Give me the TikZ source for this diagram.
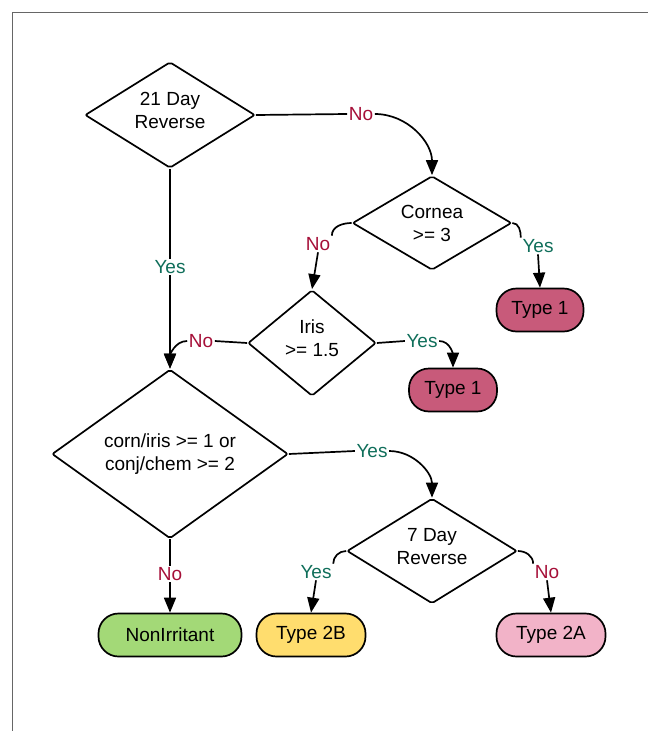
\documentclass[tikz,border=0pt]{standalone}
\usepackage{fontspec}
\setmainfont{Liberation Sans}
\usepackage{tikz}
\usetikzlibrary{shapes.geometric,arrows.meta}
\definecolor{noRed}{HTML}{A50F38}
\definecolor{yesGreen}{HTML}{0F6E5A}
\definecolor{typeOne}{HTML}{C85A7A}
\definecolor{typeTwoA}{HTML}{F2B3C8}
\definecolor{typeTwoB}{HTML}{FFDD6E}
\definecolor{nonIrr}{HTML}{A3D977}
\tikzset{
	txt/.style={font=\fontsize{19}{23}\selectfont},
	dec/.style={diamond, draw, line width=1.7pt, rounded corners=2pt, inner sep=0pt, align=center, txt},
	term/.style={rectangle, draw, line width=1.7pt, rounded corners=20pt, minimum height=43pt, inner sep=0pt, align=center, txt},
	yeslbl/.style={text=yesGreen, inner sep=1.5pt, txt},
	nolbl/.style={text=noRed, inner sep=1.5pt, txt},
	con/.style={line width=1.7pt},
	arr/.style={line width=1.7pt, -{Triangle[length=15pt,width=12pt]}}
}

\begin{document}
\begin{tikzpicture}[x=1pt,y=-1pt]
		\useasboundingbox (0,0) rectangle (648,731);
		\draw[black!60, line width=1pt] (12,731) -- (12,12) -- (648,12);

		% decisions
		\node[dec, aspect=1.6, minimum width=170pt, minimum height=106pt, text depth=10pt] (D1) at (170,115) {21 Day\\Reverse};
		\node[dec, aspect=1.7, minimum width=159pt, minimum height=94pt] (D2) at (432,223) {Cornea\\>= 3};
		\node[dec, aspect=1.2, minimum width=128pt, minimum height=106pt, text depth=10pt] (D3) at (312,343) {Iris\\>= 1.5};
		\node[dec, aspect=1.4, minimum width=236pt, minimum height=169pt] (D4) at (170,454) {corn/iris >= 1 or\\conj/chem >= 2};
		\node[dec, aspect=1.6, minimum width=170pt, minimum height=105pt, text depth=10pt] (D5) at (432,551) {7 Day\\Reverse};

		% results
		\node[term, fill=typeOne, minimum width=87pt] (T1a) at (540,310) {Type 1};
		\node[term, fill=typeOne, minimum width=88pt] (T1b) at (453,390) {Type 1};
		\node[term, fill=nonIrr, minimum width=143pt] (NI) at (170,635) {NonIrritant};
		\node[term, fill=typeTwoB, minimum width=109pt] (T2B) at (311,635) {Type 2B};
		\node[term, fill=typeTwoA, minimum width=109pt] (T2A) at (551,635) {Type 2A};

		% labels
		\node[nolbl] (no1) at (361,114) {No};
		\node[yeslbl] (yes1) at (170,267) {Yes};
		\node[nolbl] (no2) at (318,244) {No};
		\node[yeslbl] (yes2) at (538,246) {Yes};
		\node[nolbl] (no3) at (201,341) {No};
		\node[yeslbl] (yes3) at (422,341) {Yes};
		\node[yeslbl] (yes4) at (372,451) {Yes};
		\node[nolbl] (no4) at (170,574) {No};
		\node[yeslbl] (yes5) at (316,572) {Yes};
		\node[nolbl] (no5) at (547,572) {No};

		\foreach \s/\t in {D1.east/no1.west, D1.south/yes1.north, D3.east/yes3.west, D3.west/no3.east, D4.east/yes4.west, D4.south/no4.north} {
			\draw[con] (\s) -- (\t);
		}
		\foreach \s/\t in {yes1.south/D4.north, no2.south/D3.north, yes2.south/T1a.north, no4.south/NI.north, yes5.south/T2B.north, no5.south/T2A.north} {
			\draw[arr] (\s) -- (\t);
		}
		\draw[arr] (no1.east) to[out=0,in=90] (D2.north);
		\draw[arr] (yes3.east) to[out=0,in=90] (T1b.north);
		\draw[arr] (no3.west) to[out=180,in=90] (D4.north);
		\draw[arr] (yes4.east) to[out=0,in=90] (D5.north);
		\draw[con] (D2.west) to[out=180,in=90] (no2.north east);
		\draw[con] (D2.east) to[out=0,in=90] (yes2.north west);
		\draw[con] (D5.west) to[out=180,in=90] (yes5.north east);
		\draw[con] (D5.east) to[out=0,in=90] (no5.north west);
	\end{tikzpicture}
\end{document}
